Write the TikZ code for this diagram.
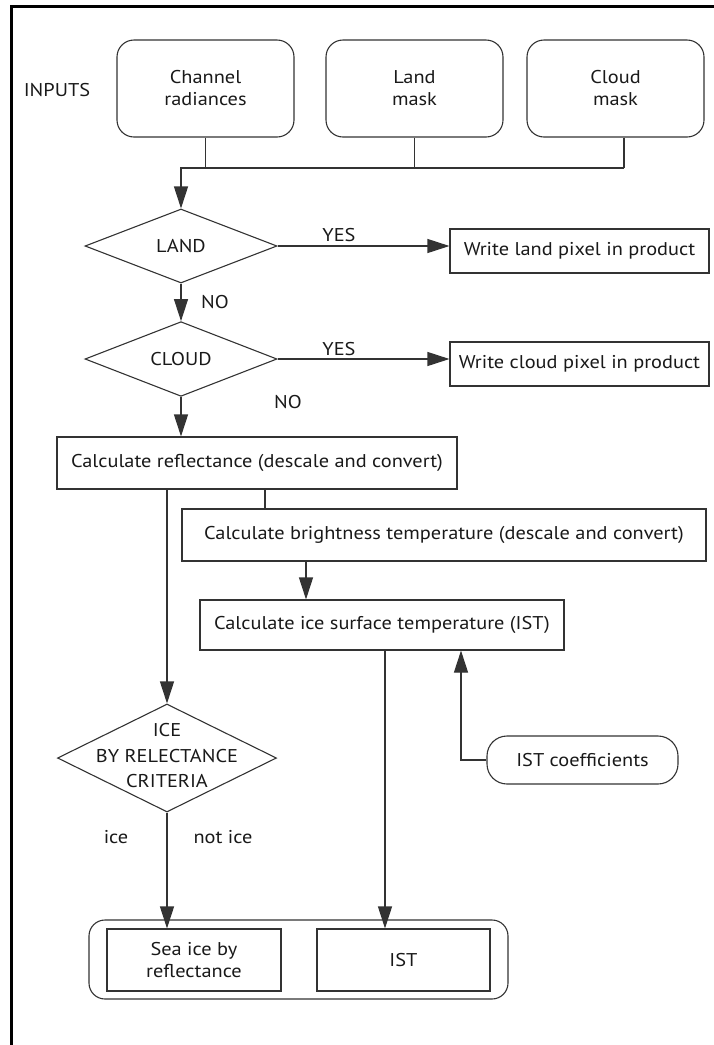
\documentclass[tikz,border=0pt]{standalone}
\usepackage{fontspec}
\setmainfont{PT Sans}[FakeStretch=1.1]
\usetikzlibrary{shapes.geometric,arrows.meta}
\begin{document}
\begin{tikzpicture}[x=1pt,y=-1pt,
  every node/.style={font=\fontsize{18.5}{22}\selectfont, text=black!90},
  box/.style={draw=black!80, line width=1.1pt, rectangle, inner sep=0pt, align=center},
  rbox/.style={box, rounded corners=17pt},
  dia/.style={draw=black!80, line width=1.1pt, diamond, inner sep=0pt},
  conn/.style={draw=black!80, line width=1.1pt},
  arr/.style={conn, -{Triangle[length=22pt,width=14pt]}},
  lbl/.style={inner sep=0pt, align=center}
]
\useasboundingbox (0,0) rectangle (714,1045);
% frame
\draw[line width=3pt, black] (714,6) -- (11,6) -- (11,1045);

% inputs
\node[lbl] (inputs) at (57,90) {INPUTS};
\node[rbox, minimum width=177pt, minimum height=97pt] (in1) at (205.5,88.5) {Channel\\radiances};
\node[rbox, minimum width=177pt, minimum height=97pt] (in2) at (414.5,88.5) {Land\\mask};
\node[rbox, minimum width=177pt, minimum height=97pt] (in3) at (615.5,88.5) {Cloud\\mask};

% decisions
\node[dia, minimum width=192pt, minimum height=74pt] (land) at (181,246) {LAND};
\node[box, minimum width=259pt, minimum height=44pt] (landbox) at (579.5,251) {Write land pixel in product};
\node[dia, minimum width=192pt, minimum height=74pt] (cloud) at (181,359) {CLOUD};
\node[box, minimum width=259pt, minimum height=44pt] (cloudbox) at (579.5,364) {Write cloud pixel in product};

\node[lbl] (yes1) at (339,235) {YES};
\node[lbl] (yes2) at (339,349) {YES};
\node[lbl] (no1) at (215,302) {NO};
\node[lbl] (no2) at (288,402) {NO};

% processing
\node[box, minimum width=400pt, minimum height=52pt] (refl) at (257,463) {Calculate reflectance (descale and convert)};
\node[box, minimum width=524pt, minimum height=52pt] (bright) at (444,535) {Calculate brightness temperature (descale and convert)};
\node[box, minimum width=364pt, minimum height=50pt] (istc) at (382,625) {Calculate ice surface temperature (IST)};
\node[rbox, rounded corners=20pt, minimum width=191pt, minimum height=48pt] (istcoef) at (582.5,760) {IST coefficients};

\node[dia, minimum width=219pt, minimum height=108pt] (ice) at (167,758) {};
\node[lbl, font=\fontsize{18.5}{25.5}\selectfont] (icetxt) at (167,756) {ICE\\BY RELECTANCE\\CRITERIA};
\node[lbl] (lice) at (116,837) {ice};
\node[lbl] (lnotice) at (223,837) {not ice};

% outputs
\node[rbox, rounded corners=16pt, minimum width=419pt, minimum height=79pt] (outbox) at (298.5,959.5) {};
\node[box, minimum width=174pt, minimum height=62pt] (seaice) at (194,960) {Sea ice by\\reflectance};
\node[box, minimum width=173pt, minimum height=62pt] (istout) at (403.5,960) {IST};

% connectors
\coordinate (j1) at (181,168);
\coordinate (j3) at (624,168);
\draw[conn] (in1.south) -- (in1.south |- j1);
\draw[conn] (in2.south) -- (in2.south |- j1);
\draw[conn] (in3.south -| j3) -- (j3);
\draw[arr] (j3) -- (j1) -- (land.north);

\draw[arr] (land.east) -- (land.east -| landbox.west);
\draw[arr] (land.south) -- (cloud.north);
\draw[arr] (cloud.east) -- (cloud.east -| cloudbox.west);
\draw[arr] (cloud.south) -- (cloud.south |- refl.north);

\coordinate (r1) at (265,0);
\coordinate (b1) at (306,0);
\coordinate (c1) at (385,0);
\coordinate (c2) at (461,0);
\draw[conn] (refl.south -| r1) -- (bright.north -| r1);
\draw[arr] (bright.south -| b1) -- (istc.north -| b1);
\draw[arr] (refl.south -| ice.north) -- (ice.north);
\draw[arr] (istcoef.west) -| (istc.south -| c2);
\draw[arr] (istc.south -| c1) -- (istout.north -| c1);
\draw[arr] (ice.south) -- (ice.south |- seaice.north);
\end{tikzpicture}
\end{document}
